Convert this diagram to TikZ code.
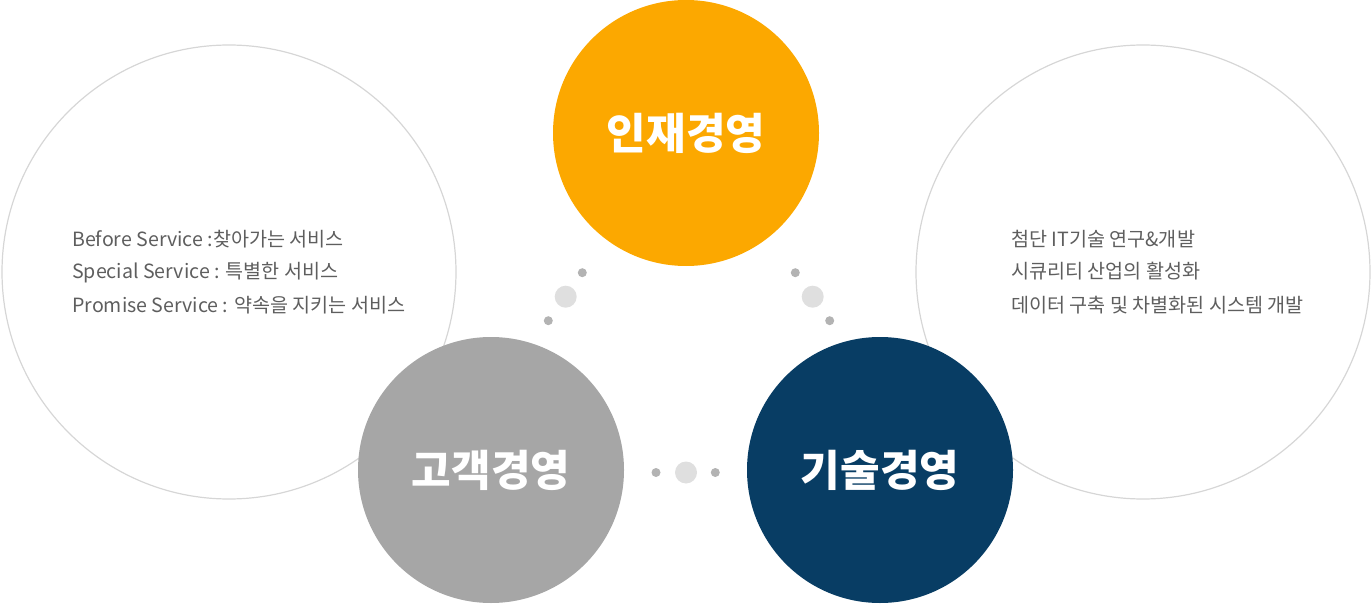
\documentclass[tikz,border=0pt]{standalone}
\usepackage{fontspec}
\setmainfont{Noto Sans CJK KR}
\newfontfamily\kr{Noto Sans CJK KR}
\definecolor{ring}{HTML}{D6D6D6}
\definecolor{orangec}{HTML}{FCA800}
\definecolor{grayc}{HTML}{A6A6A6}
\definecolor{navyc}{HTML}{083D64}
\definecolor{dotsm}{HTML}{B3B3B3}
\definecolor{dotlg}{HTML}{DFDFDF}
\definecolor{txt}{HTML}{5E5E5E}
\tikzset{
  bigring/.style={circle, draw=ring, line width=1.2pt, minimum size=454pt, inner sep=0pt},
  hub/.style={circle, minimum size=266pt, inner sep=0pt, text=white, font=\kr\bfseries\fontsize{43}{45}\selectfont},
  smalldot/.style={circle, fill=dotsm, minimum size=9pt, inner sep=0pt},
  largedot/.style={circle, fill=dotlg, minimum size=22pt, inner sep=0pt},
  desc/.style={anchor=base west, text=txt, font=\kr\fontsize{19.6}{21}\selectfont, inner sep=0pt}
}
\begin{document}
\begin{tikzpicture}[x=1pt,y=-1pt]
\useasboundingbox (0,0) rectangle (1371,604);
\node[bigring] (L) at (229,272) {};
\node[bigring] (R) at (1143,272) {};
\node[hub, fill=orangec] (A) at (686,133) {인재경영};
\node[hub, fill=grayc] (B) at (491,470) {고객경영};
\node[hub, fill=navyc] (C) at (880,470) {기술경영};
\node[smalldot] (d1) at (582.3,272.7) {};
\node[largedot] (d2) at (565.7,296.7) {};
\node[smalldot] (d3) at (548.3,320.7) {};
\node[smalldot] (d4) at (795.3,272.7) {};
\node[largedot] (d5) at (812.7,296.7) {};
\node[smalldot] (d6) at (829.7,320.7) {};
\node[smalldot] (d7) at (656,472.5) {};
\node[largedot] (d8) at (686,472.5) {};
\node[smalldot] (d9) at (715.3,472.5) {};
\node[desc] (l1) at (72,246.5) {Before Service :찾아가는 서비스};
\node[desc] (l2) at (72,279) {Special Service : 특별한 서비스};
\node[desc] (l3) at (72,312.5) {Promise Service : 약속을 지키는 서비스};
\node[desc] (r1) at (1011,246.5) {첨단 IT기술 연구\&개발};
\node[desc] (r2) at (1011,279) {시큐리티 산업의 활성화};
\node[desc] (r3) at (1011,312.5) {데이터 구축 및 차별화된 시스템 개발};
\end{tikzpicture}
\end{document}
